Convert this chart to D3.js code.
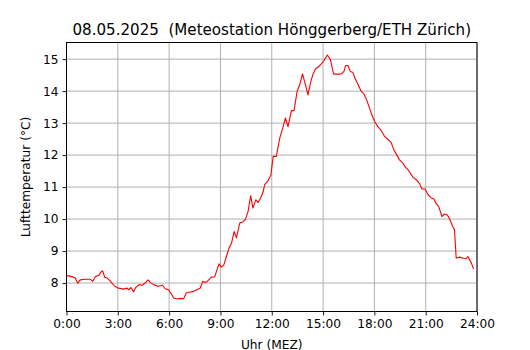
<!DOCTYPE html>
<html><head><meta charset="utf-8">
<script src="https://cdn.jsdelivr.net/npm/d3@7"></script>
<style>body{margin:0;background:#fff}svg{display:block}text{font-family:"DejaVu Sans",sans-serif;white-space:pre}</style>
</head><body><svg id="c" width="530" height="350"></svg>
<script>
// time in minutes after midnight, temperature in °C
const minutes = [0,19,31,39,48,66,83,92,101,113,122,127,134,142,153,169,183,200,212,218,227,235,243,255,265,276,286,294,306,321,337,346,358,367,376,387,399,411,420,430,446,457,469,478,489,497,509,520,528,535,544,552,561,570,579,588,596,608,619,628,637,646,654,664,672,681,690,695,707,717,725,736,748,760,768,777,789,798,809,818,828,838,847,857,865,874,885,894,903,915,926,937,955,964,973,979,987,996,1005,1013,1022,1034,1043,1052,1063,1071,1081,1092,1104,1116,1127,1139,1148,1157,1168,1180,1188,1200,1215,1227,1239,1247,1258,1268,1280,1289,1297,1306,1317,1326,1336,1344,1355,1361,1367,1379,1390,1402,1408,1420,1428];
const temps = [8.24,8.20,8.16,7.99,8.10,8.12,8.12,8.05,8.20,8.24,8.36,8.38,8.18,8.16,8.07,7.90,7.84,7.81,7.84,7.79,7.86,7.72,7.86,7.95,7.93,8.00,8.10,8.02,7.95,7.90,7.93,7.82,7.79,7.67,7.53,7.50,7.52,7.51,7.69,7.71,7.74,7.79,7.84,8.05,8.02,8.08,8.19,8.19,8.42,8.60,8.50,8.57,8.83,9.09,9.25,9.61,9.41,9.88,9.91,10.00,10.24,10.73,10.34,10.60,10.52,10.66,10.86,11.07,11.20,11.38,11.96,11.96,12.53,12.89,13.16,12.89,13.39,13.39,13.99,14.20,14.54,14.20,13.88,14.30,14.53,14.70,14.77,14.85,14.95,15.13,14.98,14.53,14.53,14.54,14.61,14.80,14.80,14.61,14.58,14.38,14.22,13.99,13.92,13.75,13.47,13.26,13.05,12.89,12.77,12.58,12.50,12.39,12.17,12.03,11.85,11.75,11.63,11.52,11.31,11.23,11.10,10.94,10.94,10.76,10.66,10.63,10.48,10.39,10.08,10.16,10.13,10.00,9.77,9.67,8.78,8.81,8.78,8.76,8.83,8.63,8.44];
const xTicks = [0,3,6,9,12,15,18,21,24];
const xTickLabels = ["0:00","3:00","6:00","9:00","12:00","15:00","18:00","21:00","24:00"];
const yTicks = [8,9,10,11,12,13,14,15];
const title = "08.05.2025  (Meteostation Hönggerberg/ETH Zürich)";
const xLabel = "Uhr (MEZ)";
const yLabel = "Lufttemperatur (°C)";

const L = 66.5, R = 477, T = 42.5, B = 311.5;
const svg = d3.select("#c");
const x = d3.scaleLinear().domain([0, 24]).range([L, R]);
const y = d3.scaleLinear().domain([7.11, 15.52]).range([B, T]);

// grid
const g = svg.append("g");
g.selectAll(".vx").data(xTicks).join("line")
  .attr("x1", d => x(d)).attr("x2", d => x(d)).attr("y1", T).attr("y2", B)
  .attr("stroke", "#b0b0b0").attr("stroke-width", 1);
g.selectAll(".hy").data(yTicks).join("line")
  .attr("x1", L).attr("x2", R).attr("y1", d => y(d)).attr("y2", d => y(d))
  .attr("stroke", "#b0b0b0").attr("stroke-width", 1);

// line
const pts = minutes.map((m, i) => [m / 60, temps[i]]);
svg.append("path").datum(pts)
  .attr("d", d3.line().x(d => x(d[0])).y(d => y(d[1])))
  .attr("fill", "none").attr("stroke", "#ff0000").attr("stroke-width", 1.1)
  .attr("stroke-linejoin", "round");

// axes
const xAxis = d3.axisBottom(x).tickValues(xTicks).tickFormat((d, i) => xTickLabels[i]).tickSize(4).tickPadding(4);
const yAxis = d3.axisLeft(y).tickValues(yTicks).tickFormat(d3.format("d")).tickSize(4).tickPadding(4);
const ax = svg.append("g").attr("transform", `translate(0,${B})`).call(xAxis);
const ay = svg.append("g").attr("transform", `translate(${L},0)`).call(yAxis);
[ax, ay].forEach(a => {
  a.select(".domain").remove();
  a.selectAll("text").attr("font-size", 12.2).attr("fill", "#000").attr("font-family", "DejaVu Sans");
  a.selectAll("line").attr("stroke", "#000").attr("stroke-width", 0.9);
});
// frame
svg.append("rect").attr("x", L).attr("y", T).attr("width", R - L).attr("height", B - T)
  .attr("fill", "none").attr("stroke", "#000").attr("stroke-width", 1);

svg.append("text").attr("x", (L + R) / 2).attr("y", 34.5).attr("text-anchor", "middle")
  .attr("font-size", 15.1).text(title);
svg.append("text").attr("x", (L + R) / 2).attr("y", 348.5).attr("text-anchor", "middle")
  .attr("font-size", 12.2).text(xLabel);
svg.append("text").attr("transform", `translate(30,${(T + B) / 2}) rotate(-90)`).attr("text-anchor", "middle")
  .attr("font-size", 12.2).text(yLabel);
</script></body></html>
